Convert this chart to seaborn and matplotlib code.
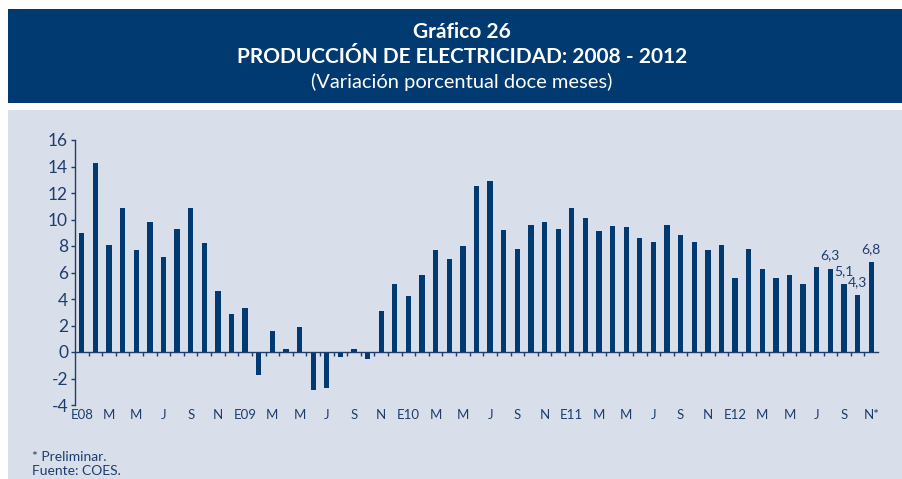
import numpy as np
import pandas as pd
import matplotlib
matplotlib.use("Agg")
import matplotlib.pyplot as plt
from matplotlib.patches import Rectangle
import seaborn as sns

# ---- data ----
years = ["08", "09", "10", "11", "12"]
month_codes = ["E", "F", "M", "A", "M", "J", "J", "A", "S", "O", "N", "D"]
values = [
    9.0, 14.3, 8.1, 10.9, 7.7, 9.8, 7.2, 9.3, 10.9, 8.2, 4.6, 2.9,      # 2008
    3.3, -1.7, 1.6, 0.2, 1.9, -2.9, -2.7, -0.4, 0.2, -0.5, 3.1, 5.1,    # 2009
    4.2, 5.8, 7.7, 7.0, 8.0, 12.5, 12.9, 9.2, 7.8, 9.6, 9.8, 9.3,       # 2010
    10.9, 10.1, 9.1, 9.5, 9.4, 8.6, 8.3, 9.6, 8.8, 8.3, 7.7, 8.1,       # 2011
    5.6, 7.8, 6.3, 5.6, 5.8, 5.1, 6.4, 6.3, 5.1, 4.3, 6.8,              # 2012 (Nov preliminary)
]
labeled_idx = [55, 56, 57, 58]
title1 = "Gráfico 26"
title2 = "PRODUCCIÓN DE ELECTRICIDAD: 2008 - 2012"
title3 = "(Variación porcentual doce meses)"
footnote1 = "* Preliminar."
footnote2 = "Fuente: COES."

n = len(values)
labels = []
for i in range(n):
    m = i % 12
    code = month_codes[m]
    if m == 0:
        code = code + years[i // 12]
    labels.append(code)
labels[-1] = labels[-1] + "*"

df = pd.DataFrame({"pos": np.arange(n), "value": values})

# ---- style ----
sns.set_theme(style="white")
plt.rcParams["font.family"] = ["Lato", "DejaVu Sans"]

DARK = "#003A70"
PANEL = "#D9DFEA"
TXT = "#1E3D6E"

fig = plt.figure(figsize=(9.03, 4.79), dpi=100)
fig.patch.set_facecolor("white")
W, H = 903.0, 479.0
fig.patches.append(Rectangle((8 / W, 1 - 103 / H), 1 - 8 / W, (103 - 9) / H,
                             transform=fig.transFigure, facecolor=DARK,
                             edgecolor="none", zorder=-5))
fig.patches.append(Rectangle((8 / W, 0), 1 - 8 / W, 1 - 110 / H,
                             transform=fig.transFigure, facecolor=PANEL,
                             edgecolor="none", zorder=-5))

fig.text(462 / W, 1 - 32 / H, title1, ha="center", va="center", color="white",
         fontsize=15, fontweight="bold")
fig.text(462 / W, 1 - 57 / H, title2, ha="center", va="center", color="white",
         fontsize=15, fontweight="bold")
fig.text(462 / W, 1 - 82 / H, title3, ha="center", va="center", color="white",
         fontsize=14.5)

ax = fig.add_axes([75 / W, 1 - 405 / H, (878 - 75) / W, (405 - 140) / H])
ax.set_facecolor("none")
ax.set_zorder(2)

sns.barplot(data=df, x="pos", y="value", color=DARK, width=0.39,
            saturation=1, ax=ax, edgecolor="none")

ax.set_xlim(-0.5, n - 0.5)
ax.set_ylim(-4, 16)
ax.set_yticks(np.arange(-4, 17, 2))
ax.set_yticklabels([str(v) for v in range(-4, 17, 2)])
ax.set_xlabel("")
ax.set_ylabel("")

for s in ["top", "right"]:
    ax.spines[s].set_visible(False)
ax.spines["left"].set_color(TXT)
ax.spines["left"].set_linewidth(1.0)
ax.spines["bottom"].set_position(("data", 0))
ax.spines["bottom"].set_color(TXT)
ax.spines["bottom"].set_linewidth(1.0)

ax.set_xticks(np.arange(0.5, n - 1, 1.0))
ax.tick_params(axis="x", direction="out", length=3, width=1, color=TXT,
               labelbottom=False, bottom=True)
ax.tick_params(axis="y", direction="out", length=3, width=1, color=TXT,
               labelcolor=TXT, labelsize=12.5, pad=2, left=True)

sec = ax.secondary_xaxis(location=0)
sec.set_xticks(np.arange(0, n, 2))
sec.set_xticklabels([labels[i] for i in range(0, n, 2)])
sec.tick_params(axis="x", length=0, labelsize=9.5, labelcolor=TXT, pad=3)
sec.spines["bottom"].set_visible(False)

for i in labeled_idx:
    v = values[i]
    ax.annotate(f"{v:.1f}".replace(".", ","), (i, v), xytext=(0, 5),
                textcoords="offset points", ha="center", va="bottom",
                fontsize=10, color=TXT)

fig.text(32 / W, 1 - 457 / H, footnote1, ha="left", va="center", color=TXT,
         fontsize=10)
fig.text(32 / W, 1 - 471 / H, footnote2, ha="left", va="center", color=TXT,
         fontsize=10)

fig.savefig("out.png", dpi=100, facecolor=fig.get_facecolor())
